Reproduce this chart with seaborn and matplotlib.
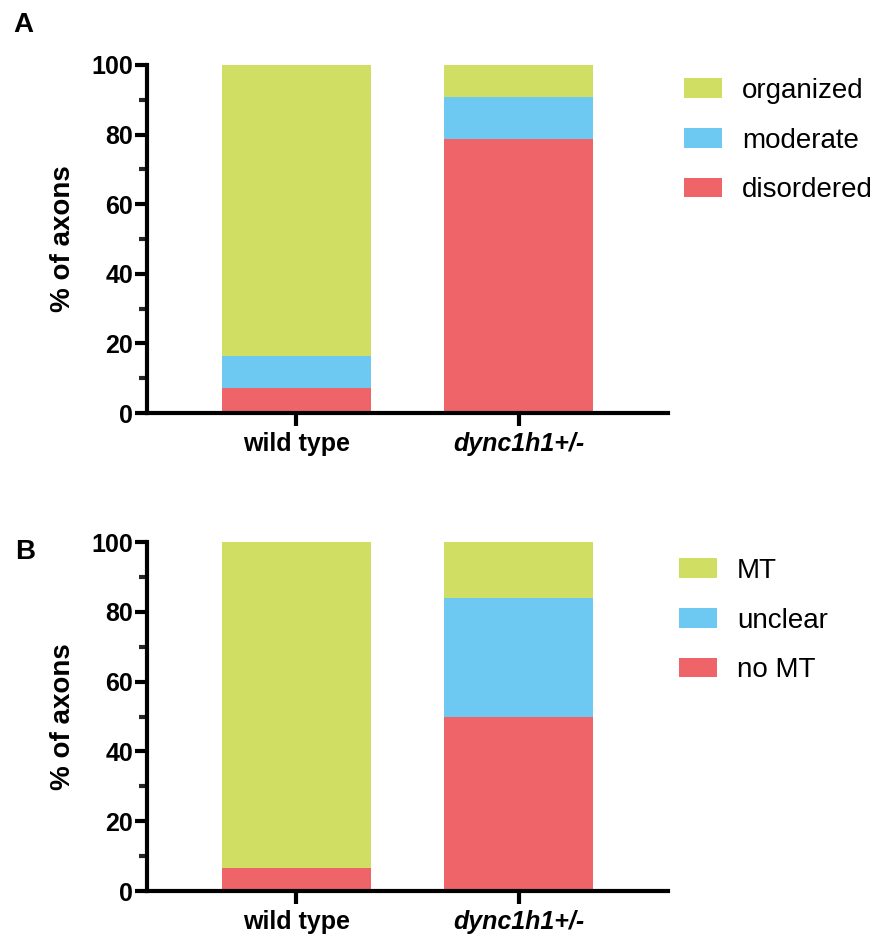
import numpy as np
import pandas as pd
import seaborn as sns
import matplotlib
matplotlib.use("Agg")
import matplotlib.pyplot as plt
from matplotlib.patches import Patch
from matplotlib.ticker import MultipleLocator

# ---- data ----
groups = ["wild type", "dync1h1+/-"]

a_labels = ["disordered", "moderate", "organized"]
a_disordered = [7.1, 78.7]
a_moderate = [9.4, 12.0]
a_organized = [83.5, 9.3]

b_labels = ["no MT", "unclear", "MT"]
b_nomt = [6.7, 50.0]
b_unclear = [0.0, 34.0]
b_mt = [93.3, 16.0]

colors = ["#EF6469", "#6DC9F1", "#D0DE63"]  # bottom -> top

sns.set_theme(style="white")
plt.rcParams["font.family"] = ["Liberation Sans", "DejaVu Sans"]
plt.rcParams["text.color"] = "black"

fig = plt.figure(figsize=(8.78, 9.38), dpi=100)
W, H = 878, 938


def ax_rect(left, top, right, bottom):
    return [left / W, 1 - bottom / H, (right - left) / W, (bottom - top) / H]


def draw_panel(ax, layers, labels, legend_left, legend_top):
    layers = [np.asarray(l, dtype=float) for l in layers]
    cum = np.cumsum(np.vstack(layers), axis=0)
    # draw from top (largest cumulative) to bottom so stacking is visible
    for i in range(len(layers) - 1, -1, -1):
        df = pd.DataFrame({"group": groups, "value": cum[i]})
        sns.barplot(data=df, x="group", y="value", color=colors[i],
                    width=0.67, ax=ax, saturation=1, linewidth=0,
                    errorbar=None)
    ax.set_xlim(-0.67, 1.67)
    ax.set_ylim(0, 100)
    ax.yaxis.set_major_locator(MultipleLocator(20))
    ax.yaxis.set_minor_locator(MultipleLocator(10))
    for s in ["top", "right"]:
        ax.spines[s].set_visible(False)
    for s in ["left", "bottom"]:
        ax.spines[s].set_linewidth(3.0)
        ax.spines[s].set_color("black")
    ax.tick_params(axis="y", which="major", direction="out", length=9,
                   width=3, left=True, pad=1, labelsize=18, colors="black")
    ax.tick_params(axis="y", which="minor", direction="out", length=6,
                   width=3, left=True)
    ax.tick_params(axis="x", which="major", direction="out", length=9,
                   width=3, bottom=True, pad=5, labelsize=18, colors="black")
    for lbl in ax.get_yticklabels():
        lbl.set_fontweight("bold")
    ax.set_xticks([0, 1])
    ax.set_xticklabels(groups)
    xl = ax.get_xticklabels()
    xl[0].set_fontweight("bold")
    xl[1].set_fontweight("bold")
    xl[1].set_fontstyle("italic")
    ax.set_xlabel("")
    ax.set_ylabel("% of axons", fontsize=20, fontweight="bold", color="black")
    ax.yaxis.set_label_coords(-0.137, 0.5)

    handles = [Patch(facecolor=colors[i], edgecolor="none", label=labels[i])
               for i in range(len(labels) - 1, -1, -1)]
    leg = fig.legend(handles=handles, loc="upper left",
                     bbox_to_anchor=(legend_left / W, 1 - legend_top / H),
                     frameon=False, fontsize=20, borderpad=0, borderaxespad=0,
                     handlelength=1.37, handleheight=0.72, handletextpad=0.72,
                     labelspacing=0.85)
    for t in leg.get_texts():
        t.set_color("black")


axA = fig.add_axes(ax_rect(147, 65, 668, 413))
draw_panel(axA, [a_disordered, a_moderate, a_organized], a_labels, 684, 78)
axB = fig.add_axes(ax_rect(147, 542, 668, 891))
draw_panel(axB, [b_nomt, b_unclear, b_mt], b_labels, 679, 558)

fig.text(13 / W, 1 - 32 / H, "A", fontsize=20, fontweight="bold", color="black")
fig.text(15 / W, 1 - 559 / H, "B", fontsize=20, fontweight="bold", color="black")

fig.savefig("out.png", dpi=100)
